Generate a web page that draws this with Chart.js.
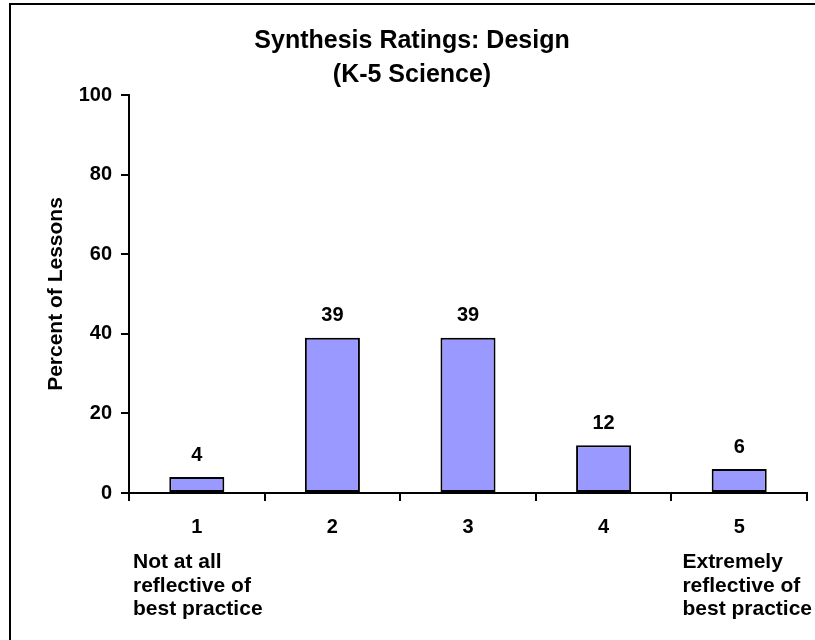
<!DOCTYPE html>
<html>
<head>
<meta charset="utf-8">
<script src="https://cdn.jsdelivr.net/npm/chart.js@4.4.1/dist/chart.umd.min.js"></script>
<style>
  html, body { margin: 0; padding: 0; background: #ffffff; }
  #wrap { width: 815px; height: 640px; position: relative; }
</style>
</head>
<body>
<div id="wrap"><canvas id="c" width="815" height="640"></canvas></div>
<script>
// ---- data ----
const categories = ['1', '2', '3', '4', '5'];
const percentValues = [4, 39, 39, 12, 6];
const lowLabelLines = ['Not at all', 'reflective of', 'best practice'];
const highLabelLines = ['Extremely', 'reflective of', 'best practice'];
const titleLines = ['Synthesis Ratings: Design', '(K-5 Science)'];
const yAxisTitle = 'Percent of Lessons';
const yMin = 0, yMax = 100, yStep = 20;

const FONT = '"Liberation Sans", Arial, Helvetica, sans-serif';
Chart.defaults.color = '#000000';
Chart.defaults.font.family = FONT;

const frameAndLabels = {
  id: 'frameAndLabels',
  afterDraw(chart) {
    const ctx = chart.ctx;
    const xs = chart.scales.x;
    ctx.save();
    // outer frame (top and left visible)
    ctx.fillStyle = '#000000';
    ctx.fillRect(9, 3, chart.width - 9, 2);
    ctx.fillRect(9, 3, 2, chart.height - 3);

    // value labels above bars
    ctx.font = 'bold 20px ' + FONT;
    ctx.textAlign = 'center';
    ctx.textBaseline = 'alphabetic';
    const meta = chart.getDatasetMeta(0);
    meta.data.forEach((bar, i) => {
      ctx.fillText(String(percentValues[i]), bar.x, bar.y - 16.5);
    });

    // anchor descriptions under categories 1 and 5
    ctx.font = 'bold 21px ' + FONT;
    ctx.textAlign = 'left';
    const lineGap = 23.5;
    const firstBaseline = 568;
    const leftX = xs.left + 4;
    lowLabelLines.forEach((t, k) => ctx.fillText(t, leftX, firstBaseline + k * lineGap));
    const widest = Math.max(...highLabelLines.map(t => ctx.measureText(t).width));
    const rightX = chart.width - 3 - widest;
    highLabelLines.forEach((t, k) => ctx.fillText(t, rightX, firstBaseline + k * lineGap));
    ctx.restore();
  }
};

new Chart(document.getElementById('c'), {
  type: 'bar',
  data: {
    labels: categories,
    datasets: [{
      data: percentValues,
      backgroundColor: '#9999FF',
      borderColor: '#000000',
      borderWidth: 2,
      borderSkipped: false,
      categoryPercentage: 1.0,
      barPercentage: 0.406
    }]
  },
  options: {
    responsive: false,
    animation: false,
    devicePixelRatio: 1,
    layout: { padding: { left: 17, right: 8, top: 0, bottom: 0 } },
    plugins: {
      legend: { display: false },
      tooltip: { enabled: false },
      title: {
        display: true,
        text: titleLines,
        color: '#000000',
        font: { family: FONT, size: 25, weight: 'bold', lineHeight: 1.36 },
        padding: { top: 24, bottom: 3 }
      }
    },
    scales: {
      x: {
        grid: { display: true, drawOnChartArea: false, drawTicks: true, tickLength: 8, color: '#000000', lineWidth: 2, offset: true },
        border: { display: true, color: '#000000', width: 2 },
        ticks: { font: { family: FONT, size: 20, weight: 'bold' }, color: '#000000', padding: 14, maxRotation: 0 },
        afterFit(scale) { scale.height = 147; }
      },
      y: {
        min: yMin,
        max: yMax,
        grid: { display: true, drawOnChartArea: false, drawTicks: true, tickLength: 8, color: '#000000', lineWidth: 2 },
        border: { display: true, color: '#000000', width: 2 },
        ticks: { stepSize: yStep, font: { family: FONT, size: 20, weight: 'bold' }, color: '#000000', padding: 9 },
        title: {
          display: true,
          text: yAxisTitle,
          color: '#000000',
          font: { family: FONT, size: 21, weight: 'bold', lineHeight: 1.2 },
          padding: { top: 27, bottom: 0 }
        },
        afterFit(scale) { scale.width = 129 - 17; }
      }
    }
  },
  plugins: [frameAndLabels]
});
</script>
</body>
</html>
